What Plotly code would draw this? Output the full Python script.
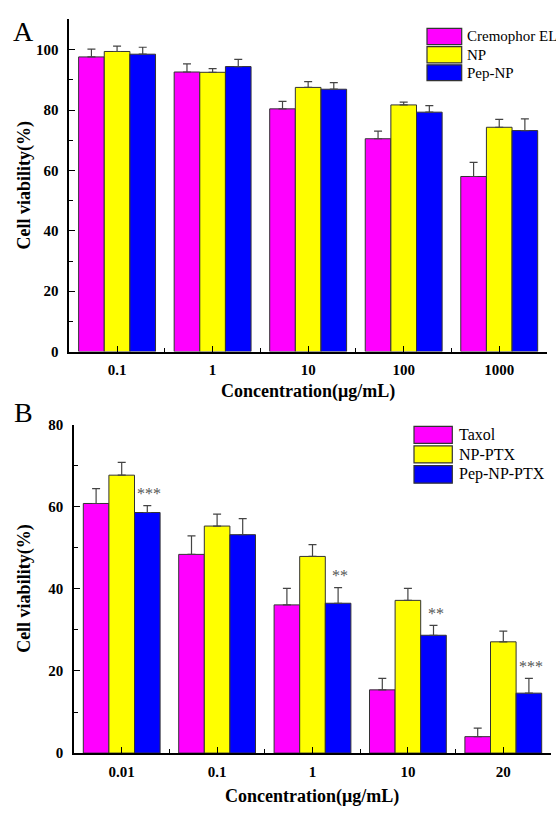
import plotly.graph_objects as go

# ---------------- data ----------------
conc_A = ["0.1", "1", "10", "100", "1000"]
series_A = ["Cremophor EL", "NP", "Pep-NP"]
cremophor = [97.6, 92.6, 80.4, 70.5, 58.0]
cremophor_err = [2.6, 2.7, 2.5, 2.5, 4.7]
np_vals = [99.4, 92.5, 87.5, 81.7, 74.3]
np_err = [1.8, 1.2, 1.9, 0.9, 2.6]
pepnp = [98.5, 94.4, 86.9, 79.3, 73.2]
pepnp_err = [2.3, 2.4, 2.2, 2.2, 3.9]

conc_B = ["0.01", "0.1", "1", "10", "20"]
series_B = ["Taxol", "NP-PTX", "Pep-NP-PTX"]
taxol = [60.8, 48.4, 36.1, 15.4, 4.0]
taxol_err = [3.6, 4.5, 4.0, 2.8, 2.1]
np_ptx = [67.7, 55.3, 47.9, 37.2, 27.1]
np_ptx_err = [3.1, 2.9, 2.9, 2.9, 2.6]
pep_ptx = [58.6, 53.2, 36.5, 28.7, 14.6]
pep_ptx_err = [1.7, 3.9, 3.8, 2.4, 3.6]
stars_B = ["***", "", "**", "**", "***"]

colors = ["#FF00FF", "#FFFF00", "#0000FF"]

# ---------------- layout constants ----------------
W, H = 556, 815
FONT = "Liberation Serif"
BARGAP = 0.195


def px(x):
    return x / W


def py(y):
    return 1 - y / H


fig = go.Figure()

for vals, errs, name, col in zip([cremophor, np_vals, pepnp],
                                 [cremophor_err, np_err, pepnp_err],
                                 series_A, colors):
    fig.add_trace(go.Bar(
        x=list(range(len(conc_A))), y=vals, name=name,
        marker=dict(color=col, line=dict(color="#333333", width=1)),
        error_y=dict(type="data", array=errs, arrayminus=[0] * len(errs),
                     symmetric=False, color="#444444", thickness=1.2, width=4),
        xaxis="x", yaxis="y", showlegend=False))

for vals, errs, name, col in zip([taxol, np_ptx, pep_ptx],
                                 [taxol_err, np_ptx_err, pep_ptx_err],
                                 series_B, colors):
    fig.add_trace(go.Bar(
        x=list(range(len(conc_B))), y=vals, name=name,
        marker=dict(color=col, line=dict(color="#333333", width=1)),
        error_y=dict(type="data", array=errs, arrayminus=[0] * len(errs),
                     symmetric=False, color="#444444", thickness=1.2, width=4),
        xaxis="x2", yaxis="y2", showlegend=False))


def xaxis_cfg(labels, domain, anchor):
    return dict(
        domain=domain, anchor=anchor, range=[-0.5, 4.5],
        tickmode="array", tickvals=list(range(len(labels))), ticktext=labels,
        ticks="inside", ticklen=6, tickwidth=1.3, tickcolor="black",
        minor=dict(ticks="inside", ticklen=4, tickwidth=1.3, tickcolor="black",
                   tick0=0.5, dtick=1),
        showline=True, linecolor="black", linewidth=1.6,
        showgrid=False, zeroline=False,
        tickfont=dict(family=FONT, size=15, color="black", weight="bold"),
        ticklabelstandoff=4,
        fixedrange=True)


def yaxis_cfg(rng, domain, anchor):
    return dict(
        domain=domain, anchor=anchor, range=rng,
        tick0=0, dtick=20,
        ticks="inside", ticklen=6, tickwidth=1.3, tickcolor="black",
        minor=dict(ticks="inside", ticklen=4, tickwidth=1.3, tickcolor="black",
                   tick0=0, dtick=10),
        showline=True, linecolor="black", linewidth=1.6,
        showgrid=False, zeroline=False,
        tickfont=dict(family=FONT, size=15, color="black", weight="bold"),
        ticklabelstandoff=6,
        fixedrange=True)


annotations = []
shapes = []

# axis titles and panel letters
title_font = dict(family=FONT, size=18, color="black", weight="bold")
for (xl, xr, ytop, ybot, xtitle_y, letter, ly) in [
        (69.3, 547.0, 11.7, 350.5, 391.5, "A", 24),
        (74.0, 551.0, 425.0, 760.0, 804.5, "B", 412.5)]:
    annotations.append(dict(
        text="Concentration(μg/mL)", x=px((xl + xr) / 2), y=py(xtitle_y),
        xref="paper", yref="paper", xanchor="center", yanchor="middle",
        showarrow=False, font=title_font))
    annotations.append(dict(
        text="Cell viability(%)", x=px(25), y=py((ytop + ybot) / 2),
        xref="paper", yref="paper", xanchor="center", yanchor="middle",
        textangle=-90, showarrow=False, font=title_font))
    annotations.append(dict(
        text=letter, x=px(23), y=py(ly), xref="paper", yref="paper",
        xanchor="center", yanchor="middle", showarrow=False,
        font=dict(family=FONT, size=28, color="black")))

# custom legends
for names, (sx0, sx1, tx), rows, fsize in [
        (series_A, (427, 461.7, 464.5), [(20.7, 37.3), (39.3, 56.0), (58.0, 74.0)], 15),
        (series_B, (414, 452.3, 457.3), [(426.7, 444.0), (446.7, 464.0), (466.7, 484.7)], 16)]:
    for name, col, (r0, r1) in zip(names, colors, rows):
        shapes.append(dict(type="rect", xref="paper", yref="paper",
                           x0=px(sx0), x1=px(sx1), y0=py(r1), y1=py(r0),
                           fillcolor=col, line=dict(color="#333333", width=1.2)))
        annotations.append(dict(
            text=name, x=px(tx), y=py((r0 + r1) / 2), xref="paper", yref="paper",
            xanchor="left", yanchor="middle", showarrow=False,
            font=dict(family=FONT, size=fsize, color="black")))

# significance stars above Pep-NP-PTX bars
bar_w = (1 - BARGAP) / 3
for i, s in enumerate(stars_B):
    if s:
        annotations.append(dict(
            text=s, x=i + bar_w, y=pep_ptx[i] + pep_ptx_err[i] + 3.0,
            xref="x2", yref="y2", xanchor="center", yanchor="middle",
            xshift=2, showarrow=False,
            font=dict(family=FONT, size=16, color="#555555")))

fig.update_layout(
    width=W, height=H, autosize=False,
    margin=dict(l=0, r=0, t=0, b=0),
    paper_bgcolor="white", plot_bgcolor="white",
    barmode="group", bargap=BARGAP, bargroupgap=0,
    xaxis=xaxis_cfg(conc_A, [px(69.3), px(547.0)], "y"),
    yaxis=yaxis_cfg([0, 110], [py(350.5), py(11.7)], "x"),
    xaxis2=xaxis_cfg(conc_B, [px(74.0), px(551.0)], "y2"),
    yaxis2=yaxis_cfg([0, 80], [py(760.0), py(425.0)], "x2"),
    annotations=annotations, shapes=shapes,
    showlegend=False,
)

post = (
    "var de=document.documentElement;de.style.margin='0';de.style.padding='0';"
    "de.style.overflow='hidden';de.style.height='815px';"
    "var b=document.body;b.style.margin='0';b.style.padding='0';"
    "b.style.overflow='hidden';b.style.height='815px';"
    "var d=document.getElementById('{plot_id}');"
    "d.style.position='absolute';d.style.top='0px';d.style.left='0px';"
)

fig.write_html(
    "out.html",
    config={"displayModeBar": False},
    post_script=post,
)
